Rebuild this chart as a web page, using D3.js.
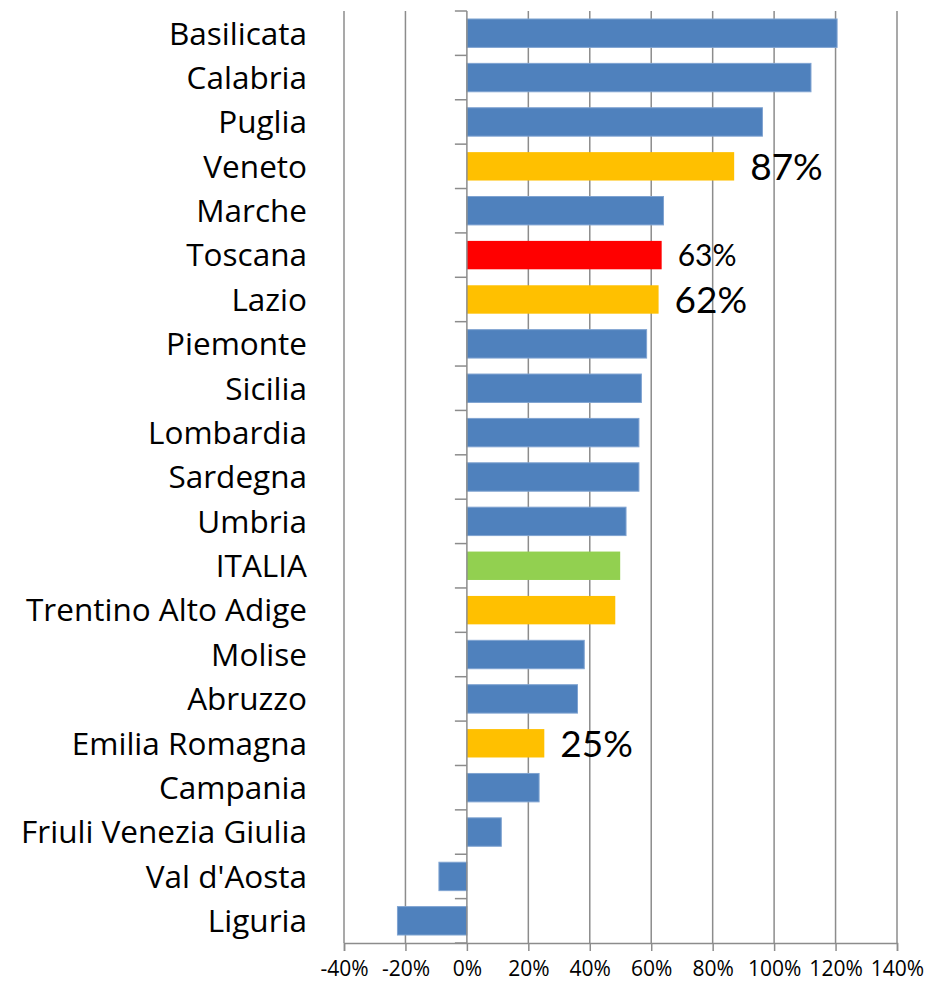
<html lang="it">
<head>
	<meta charset="utf-8">
	<title>Regioni</title>
	<script src="https://d3js.org/d3.v7.min.js"></script>
	<style>
		body { margin: 0; background: #fff; }
		text { font-family: "Open Sans", Lato, sans-serif; }
	</style>
</head>
<body>
<script>
// regions, top to bottom
var regions = ["Basilicata", "Calabria", "Puglia", "Veneto", "Marche", "Toscana", "Lazio",
	"Piemonte", "Sicilia", "Lombardia", "Sardegna", "Umbria", "ITALIA", "Trentino Alto Adige",
	"Molise", "Abruzzo", "Emilia Romagna", "Campania", "Friuli Venezia Giulia", "Val d'Aosta", "Liguria"];
// change, in percent
var values = [120.5, 112, 96.2, 87, 64, 63.4, 62.4, 58.5, 56.8, 56, 56, 51.8, 49.9, 48.3,
	38.2, 36, 25.2, 23.5, 11.2, -9.1, -22.6];
// bar colour group for each region
var groups = ["base", "base", "base", "hi", "base", "tos", "hi", "base", "base", "base", "base",
	"base", "ita", "hi", "base", "base", "hi", "base", "base", "base", "base"];
// regions with a value label, and the size of that label
var labelled = ["Veneto", "Toscana", "Lazio", "Emilia Romagna"];
var labelSize = [37, 30, 37, 37];
var xTicks = [-40, -20, 0, 20, 40, 60, 80, 100, 120, 140];

var colors = { base: "#4F81BD", hi: "#FFC000", tos: "#FF0000", ita: "#92D050" };

var W = 931, H = 989;
// plot box (note: "top" is taken by window.top)
var pLeft = 344, pRight = 897, pTop = 11, pBottom = 943;

var svg = d3.select("body").append("svg")
	.attr("width", W)
	.attr("height", H);

var x = d3.scaleLinear().domain([-40, 140]).range([pLeft, pRight]);
var y = d3.scaleBand().domain(regions).range([pTop, pBottom]).paddingInner(0.36).paddingOuter(0.18);

// vertical gridlines
svg.append("g").selectAll("line")
	.data(xTicks.filter(function(d){ return d != 0; }))
	.enter().append("line")
	.attr("x1", function(d){ return x(d); })
	.attr("x2", function(d){ return x(d); })
	.attr("y1", pTop)
	.attr("y2", pBottom)
	.attr("stroke", "#8c8c8c")
	.attr("stroke-width", 1.5);

// bars
svg.append("g").selectAll("rect")
	.data(regions)
	.enter().append("rect")
	.attr("x", function(d, i){ return x(Math.min(0, values[i])); })
	.attr("y", function(d){ return y(d); })
	.attr("width", function(d, i){ return Math.abs(x(values[i]) - x(0)); })
	.attr("height", y.bandwidth())
	.attr("fill", function(d, i){ return colors[groups[i]]; })
	.attr("stroke", function(d, i){ return groups[i] == "base" ? "#7FA3D1" : "none"; })
	.attr("stroke-width", 1);

// bottom axis
var xAxis = svg.append("g")
	.attr("transform", "translate(0," + pBottom + ")")
	.call(d3.axisBottom(x).tickValues(xTicks).tickSize(8).tickPadding(10)
		.tickFormat(function(d){ return d + "%"; }));
xAxis.select(".domain").attr("stroke", "#8c8c8c").attr("stroke-width", 1.5);
xAxis.selectAll(".tick line").attr("stroke", "#8c8c8c").attr("stroke-width", 1.5);
xAxis.selectAll(".tick text")
	.attr("font-size", 21)
	.attr("fill", "#000")
	.style("font-family", "'Open Sans', Lato, sans-serif");

// category axis at 0%
var boundaries = regions.map(function(d){ return y(d) - y.step() * y.paddingInner() / 2; });
boundaries.push(pBottom);
var yAxis = svg.append("g");
yAxis.append("line")
	.attr("x1", x(0)).attr("x2", x(0))
	.attr("y1", pTop).attr("y2", pBottom)
	.attr("stroke", "#8c8c8c").attr("stroke-width", 1.5);
yAxis.selectAll(".tk")
	.data(boundaries)
	.enter().append("line")
	.attr("class", "tk")
	.attr("x1", x(0) - 12).attr("x2", x(0))
	.attr("y1", function(d){ return d; })
	.attr("y2", function(d){ return d; })
	.attr("stroke", "#8c8c8c").attr("stroke-width", 1.5);

// category labels
svg.append("g").selectAll("text")
	.data(regions)
	.enter().append("text")
	.attr("x", 307)
	.attr("y", function(d){ return y(d) + y.bandwidth() / 2; })
	.attr("dy", "0.36em")
	.attr("text-anchor", "end")
	.attr("font-size", 31.5)
	.attr("fill", "#000")
	.text(function(d){ return d; });

// value labels
svg.append("g").selectAll("text")
	.data(labelled)
	.enter().append("text")
	.attr("x", function(d){ return x(values[regions.indexOf(d)]) + 16; })
	.attr("y", function(d){ return y(d) + y.bandwidth() / 2; })
	.attr("dy", "0.36em")
	.attr("font-size", function(d, i){ return labelSize[i]; })
	.attr("fill", "#000")
	.style("font-family", "Lato, 'Open Sans', sans-serif")
	.text(function(d){ return Math.round(values[regions.indexOf(d)]) + "%"; });
</script>
</body>
</html>
